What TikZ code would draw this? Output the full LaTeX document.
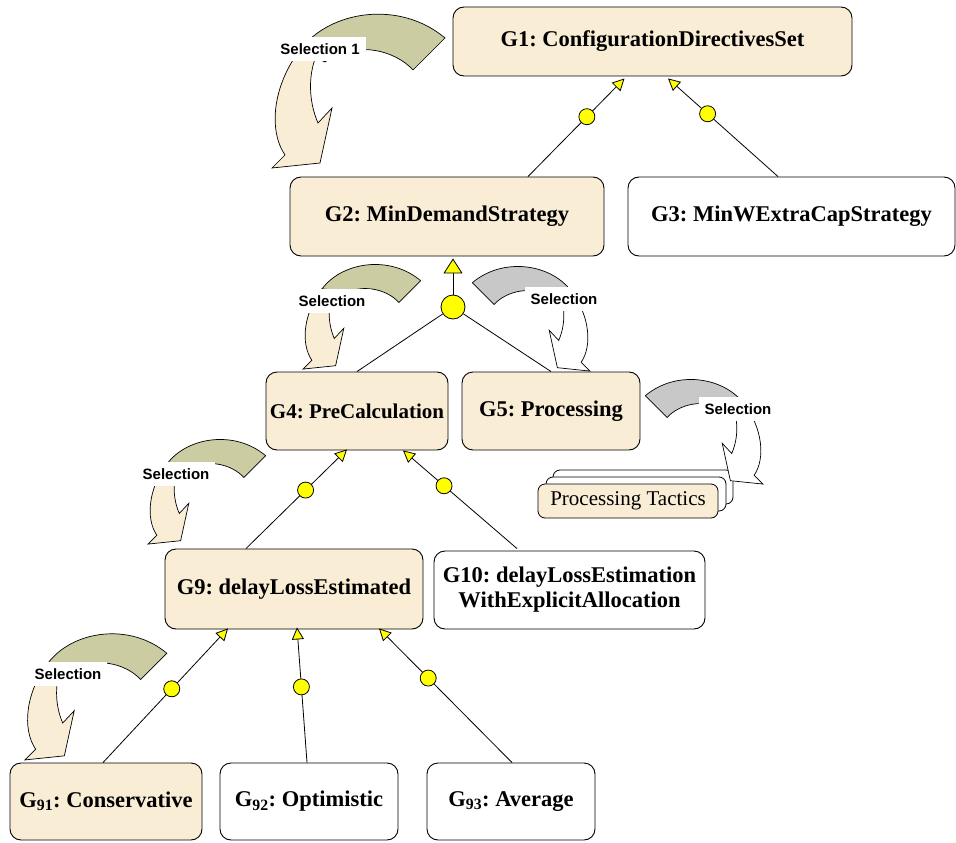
\documentclass[tikz,border=0pt]{standalone}
\usepackage{fontspec}
\setmainfont{Liberation Serif}
\newfontfamily\labelfont{Liberation Sans}
\usetikzlibrary{arrows.meta}
\frenchspacing

\definecolor{parch}{RGB}{249,237,214}
\definecolor{selback}{RGB}{204,204,163}
\definecolor{selgrey}{RGB}{200,200,200}
\definecolor{goalyellow}{RGB}{255,255,0}

% Curved "selection" arrow: #1,#2 placement, #3,#4 scale, #5 back face, #6 front face
\newcommand\selarrow[6]{%
  \begin{scope}[shift={(#1,#2)}, xscale=#3, yscale=#4]
    \draw[line width=0.7pt, fill=#5]
      (28,38) .. controls (58,-2) and (128,-12) .. (173,26)
      -- (141,58) .. controls (123,38) and (83,28) .. (53,50) -- cycle;
    \draw[line width=0.7pt, fill=#6]
      (28,38) .. controls (1,73) and (-4,118) .. (13,143)
      -- (0,156) -- (48,151) -- (60,96) -- (46,111)
      .. controls (36,88) and (36,60) .. (46,40) -- cycle;
  \end{scope}}

\begin{document}
\begin{tikzpicture}[x=1pt, y=-1pt,
  goal/.style={draw=black, line width=0.9pt, rounded corners=11pt, fill=parch,
    inner sep=0pt, align=center, font=\fontsize{22.5}{25}\selectfont\bfseries},
  wgoal/.style={goal, fill=white},
  conn/.style={draw=black, line width=0.8pt},
  smalltip/.style={-{Triangle[length=12pt, width=12pt, fill=goalyellow]}},
  bigtip/.style={-{Triangle[length=15pt, width=19pt, fill=goalyellow]}},
  dot/.style={circle, draw=black, line width=0.8pt, fill=goalyellow,
    inner sep=0pt, minimum size=16pt},
  sel/.style={fill=white, inner xsep=6pt, inner ysep=0pt, minimum height=24pt,
    font=\labelfont\bfseries\fontsize{15}{17}\selectfont},
  tactic/.style={draw=black, line width=0.8pt, rounded corners=7pt,
    minimum width=180pt, minimum height=34pt, fill=white, inner sep=0pt,
    font=\fontsize{21}{23}\selectfont}
]
\useasboundingbox (0,0) rectangle (956,843);

% goals
\node[goal, minimum width=399pt, minimum height=69pt] (G1) at (652.5,41.5) {G1: ConfigurationDirectivesSet};
\node[goal, minimum width=314pt, minimum height=79pt] (G2) at (447,216.5) {G2: MinDemandStrategy};
\node[wgoal, minimum width=327pt, minimum height=79pt] (G3) at (791.5,216.5) {G3: MinWExtraCapStrategy};
\node[goal, minimum width=182pt, minimum height=78pt, font=\fontsize{21}{24}\selectfont\bfseries] (G4) at (357,411) {G4: PreCalculation};
\node[goal, minimum width=178pt, minimum height=78pt] (G5) at (551,411) {G5: Processing};
\node[goal, minimum width=258pt, minimum height=80pt] (G9) at (294,589) {G9: delayLossEstimated};
\node[wgoal, minimum width=271pt, minimum height=78pt] (G10) at (569.5,590) {G10: delayLossEstimation\\WithExplicitAllocation};
\node[goal, minimum width=192pt, minimum height=77pt] (G91) at (106,801.5) {G\textsubscript{91}: Conservative};
\node[wgoal, minimum width=178pt, minimum height=77pt] (G92) at (309,801.5) {G\textsubscript{92}: Optimistic};
\node[wgoal, minimum width=168pt, minimum height=77pt] (G93) at (511,801.5) {G\textsubscript{93}: Average};

% stacked tactics
\node[tactic] (T3) at (643,487) {};
\node[tactic] (T2) at (636,494) {};
\node[tactic, fill=parch] (T1) at (628,501) {Processing Tactics};

% alternative refinements
\draw[conn, smalltip] ([xshift=81pt]G2.north) -- node[pos=0.61, dot] {} ([xshift=-28pt, yshift=-2pt]G1.south);
\draw[conn, smalltip] ([xshift=-13.5pt]G3.north) -- node[pos=0.64, dot] {} ([xshift=15.5pt, yshift=-2pt]G1.south);
\draw[conn, smalltip] ([xshift=-48pt]G9.north) -- node[pos=0.59, dot] {} ([xshift=-10pt, yshift=1pt]G4.south);
\draw[conn, smalltip] ([xshift=-52.5pt, yshift=2pt]G10.north) -- node[pos=0.64, dot] {} ([xshift=46pt]G4.south);
\draw[conn, smalltip] ([xshift=-3pt]G91.north) -- node[pos=0.55, dot] {} ([xshift=-66pt, yshift=1pt]G9.south);
\draw[conn, smalltip] ([xshift=-2pt]G92.north) -- node[pos=0.56, dot] {} ([xshift=3pt, yshift=2pt]G9.south);
\draw[conn, smalltip] ([xshift=1pt]G93.north) -- node[pos=0.63, dot] {} ([xshift=85pt, yshift=1pt]G9.south);

% and-refinement of G2
\node[dot, minimum size=24pt] (or1) at (453,307) {};
\draw[conn] (G4.north) -- (or1);
\draw[conn] (G5.north) -- (or1);
\draw[conn, bigtip] (or1) -- ([yshift=-2pt]or1 |- G2.south);

% selection arrows
\selarrow{272}{12}{1}{1}{selback}{parch}
\selarrow{303}{263}{0.68}{0.68}{selback}{parch}
\selarrow{148}{438}{0.68}{0.68}{selback}{parch}
\selarrow{25}{632}{0.82}{0.82}{selback}{parch}
\selarrow{590}{265}{-0.68}{0.68}{selgrey}{white}
\selarrow{763}{378}{-0.68}{0.68}{selgrey}{white}

% selection labels
\node[sel] (S1) at (320,49) {Selection 1};
\node[sel] (S2) at (332,301) {Selection};
\node[sel] (S3) at (564,299) {Selection};
\node[sel] (S4) at (738,409) {Selection};
\node[sel] (S5) at (176,474) {Selection};
\node[sel] (S6) at (68,674) {Selection};
\end{tikzpicture}
\end{document}
